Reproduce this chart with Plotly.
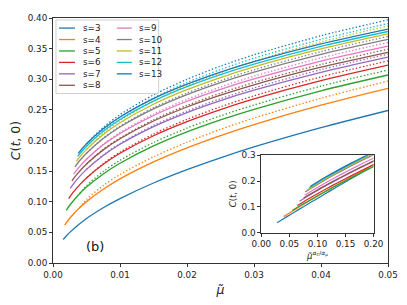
import plotly.graph_objects as go

# ---------------- data ----------------
s_values = [3, 4, 5, 6, 7, 8, 9, 10, 11, 12, 13]
colors = ["#1f77b4", "#ff7f0e", "#2ca02c", "#d62728", "#9467bd", "#8c564b",
          "#e377c2", "#7f7f7f", "#bcbd22", "#17becf", "#1f77b4"]

grid = [0.005, 0.0075, 0.01, 0.015, 0.02, 0.025, 0.03, 0.04, 0.05]

mu_s3 = [0.00153, 0.002, 0.0025] + grid
C_s3 = [0.0384, 0.0444, 0.0500, 0.0725, 0.0901, 0.1051, 0.1306, 0.1524, 0.1717, 0.1894, 0.2209, 0.249]

mu_s4 = [0.00174, 0.0025, 0.004] + grid
C_s4 = [0.062, 0.0731, 0.0905, 0.1002, 0.1204, 0.1373, 0.1650, 0.1880, 0.2081, 0.2260, 0.2576, 0.285]

mu_s5 = [0.00198, 0.0025, 0.004] + grid
C_s5 = [0.086, 0.0943, 0.1135, 0.1239, 0.1454, 0.1628, 0.1911, 0.2140, 0.2336, 0.2510, 0.2812, 0.307]

mu_s6 = [0.00233, 0.003, 0.004] + grid
C_s6 = [0.105, 0.1152, 0.1280, 0.1389, 0.1611, 0.1791, 0.2078, 0.2309, 0.2506, 0.2679, 0.2977, 0.323]

mu_s7 = [0.00258, 0.0035] + grid
C_s7 = [0.122, 0.1353, 0.1529, 0.1756, 0.1938, 0.2226, 0.2456, 0.2651, 0.2821, 0.3113, 0.336]

mu_s8 = [0.00283, 0.0035] + grid
C_s8 = [0.134, 0.1438, 0.1616, 0.1847, 0.2029, 0.2318, 0.2547, 0.2741, 0.2910, 0.3197, 0.344]

mu_s9 = [0.00308, 0.004] + grid
C_s9 = [0.145, 0.1578, 0.1695, 0.1929, 0.2115, 0.2408, 0.2641, 0.2836, 0.3006, 0.3296, 0.354]

mu_s10 = [0.00327, 0.004] + grid
C_s10 = [0.157, 0.1673, 0.1792, 0.2031, 0.2220, 0.2516, 0.2750, 0.2946, 0.3117, 0.3407, 0.365]

mu_s11 = [0.00347, 0.004] + grid
C_s11 = [0.166, 0.1733, 0.1855, 0.2099, 0.2291, 0.2592, 0.2829, 0.3028, 0.3201, 0.3494, 0.374]

mu_s12 = [0.00367] + grid
C_s12 = [0.174, 0.1907, 0.2152, 0.2344, 0.2644, 0.2880, 0.3077, 0.3248, 0.3538, 0.378]

mu_s13 = [0.00377] + grid
C_s13 = [0.179, 0.1946, 0.2191, 0.2384, 0.2684, 0.2920, 0.3118, 0.3289, 0.3578, 0.382]

solid_mu = [mu_s3, mu_s4, mu_s5, mu_s6, mu_s7, mu_s8, mu_s9, mu_s10, mu_s11, mu_s12, mu_s13]
solid_C = [C_s3, C_s4, C_s5, C_s6, C_s7, C_s8, C_s9, C_s10, C_s11, C_s12, C_s13]

# dotted companions (s = 4 ... 13)
dmu_s4 = [0.004] + grid
dC_s4 = [0.0905, 0.1038, 0.1264, 0.1445, 0.1734, 0.1972, 0.2181, 0.2366, 0.2690, 0.297]
dmu_s5 = [0.004] + grid
dC_s5 = [0.1135, 0.1263, 0.1494, 0.1676, 0.1967, 0.2202, 0.2402, 0.2580, 0.2888, 0.315]
dC_s6 = [0.1389, 0.1622, 0.1809, 0.2106, 0.2345, 0.2550, 0.2730, 0.3039, 0.330]
dC_s7 = [0.1529, 0.1764, 0.1951, 0.2246, 0.2482, 0.2683, 0.2858, 0.3157, 0.341]
dC_s8 = [0.1616, 0.1855, 0.2042, 0.2338, 0.2573, 0.2773, 0.2947, 0.3241, 0.349]
dC_s9 = [0.1695, 0.1938, 0.2130, 0.2432, 0.2672, 0.2874, 0.3050, 0.3349, 0.360]
dC_s10 = [0.1792, 0.2039, 0.2233, 0.2536, 0.2776, 0.2978, 0.3154, 0.3451, 0.370]
dC_s11 = [0.1855, 0.2119, 0.2324, 0.2644, 0.2897, 0.3110, 0.3296, 0.3608, 0.387]
dC_s12 = [0.1907, 0.2172, 0.2377, 0.2696, 0.2948, 0.3159, 0.3343, 0.3652, 0.391]
dC_s13 = [0.1946, 0.2214, 0.2422, 0.2744, 0.2998, 0.3213, 0.3399, 0.3710, 0.397]

dotted_mu = [None, dmu_s4, dmu_s5, grid, grid, grid, grid, grid, grid, grid, grid]
dotted_C = [None, dC_s4, dC_s5, dC_s6, dC_s7, dC_s8, dC_s9, dC_s10, dC_s11, dC_s12, dC_s13]

# inset: exponent alpha_c/alpha_mu per s
ratio_exp = [0.552, 0.507, 0.466, 0.4535, 0.451, 0.441, 0.443, 0.446, 0.4416, 0.4396, 0.4375]

main_xticks = [0.00, 0.01, 0.02, 0.03, 0.04, 0.05]
main_yticks = [0.00, 0.05, 0.10, 0.15, 0.20, 0.25, 0.30, 0.35, 0.40]
inset_xticks = [0.00, 0.05, 0.10, 0.15, 0.20]
inset_yticks = [0.0, 0.1, 0.2, 0.3]

# ---------------- layout geometry (window pixels) ----------------
OFF = 8                      # page body margin of the html page
W, H = 407 - OFF, 305 - OFF
L, R, T, B = 52, 388, 13, 263


def px_x(x):
    return (x - L) / (R - L)


def px_y(y):
    return (B - y) / (B - T)


FONT = "DejaVu Sans"
fig = go.Figure()

for i, s in enumerate(s_values):
    fig.add_trace(go.Scatter(
        x=solid_mu[i], y=solid_C[i], mode="lines", showlegend=False,
        line=dict(color=colors[i], width=1.3, shape="spline", smoothing=0.8),
        xaxis="x", yaxis="y"))
    if dotted_C[i] is not None:
        fig.add_trace(go.Scatter(
            x=dotted_mu[i], y=dotted_C[i], mode="lines", showlegend=False,
            line=dict(color=colors[i], width=1.3, dash="1.4px,2.1px",
                      shape="spline", smoothing=0.8),
            xaxis="x", yaxis="y"))

for i, s in enumerate(s_values):
    fig.add_trace(go.Scatter(
        x=[m ** ratio_exp[i] for m in solid_mu[i]], y=solid_C[i], mode="lines",
        showlegend=False,
        line=dict(color=colors[i], width=1.2, shape="spline", smoothing=0.8),
        xaxis="x2", yaxis="y2"))

axis_common = dict(showline=True, linecolor="#333", linewidth=1, mirror=True,
                   ticks="outside", ticklen=3, tickwidth=1, tickcolor="#333",
                   showgrid=False, zeroline=False,
                   tickfont=dict(family=FONT, size=8.8, color="#222"))

in_x0, in_x1 = px_x(261), px_x(373.5)
in_y0, in_y1 = px_y(232), px_y(153)

fig.update_layout(
    width=W, height=H,
    margin=dict(l=L - OFF, r=407 - R, t=T - OFF, b=305 - B, pad=0),
    paper_bgcolor="white", plot_bgcolor="white",
    showlegend=False,
    font=dict(family=FONT, color="#222"),
    xaxis=dict(domain=[0, 1], range=[0, 0.05], tickvals=main_xticks,
               tickformat=".2f", anchor="y",
               title=dict(text="<i>μ̃</i>", font=dict(family=FONT, size=12.5), standoff=6),
               **axis_common),
    yaxis=dict(domain=[0, 1], range=[0, 0.40], tickvals=main_yticks,
               tickformat=".2f", anchor="x",
               title=dict(text="<i>C</i>(<i>t</i>, 0)", font=dict(family=FONT, size=12.5), standoff=6),
               **axis_common),
    xaxis2=dict(domain=[in_x0, in_x1], range=[0, 0.2], tickvals=inset_xticks,
                tickformat=".2f", anchor="y2",
                title=dict(text="<i>μ̃</i><sup><i>α<sub>C</sub></i>/<i>α<sub>μ</sub></i></sup>",
                           font=dict(family=FONT, size=8.5), standoff=2),
                **axis_common),
    yaxis2=dict(domain=[in_y0, in_y1], range=[0, 0.3], tickvals=inset_yticks,
                tickformat=".1f", anchor="x2",
                title=dict(text="<i>C</i>(<i>t</i>, 0)", font=dict(family=FONT, size=8.5), standoff=3),
                **axis_common),
)

# (b) label
fig.add_annotation(x=0.00625, y=0.027, xref="x", yref="y", text="(b)",
                   showarrow=False, font=dict(family=FONT, size=13, color="#111"))

# legend (two columns, drawn as in the reference)
fig.add_shape(type="rect", xref="paper", yref="paper",
              x0=px_x(55), x1=px_x(158), y0=px_y(90), y1=px_y(15),
              line=dict(color="#d0d0d0", width=1), fillcolor="rgba(255,255,255,0.85)",
              layer="above")
for i, s in enumerate(s_values):
    col = 0 if i < 6 else 1
    row = i if i < 6 else i - 6
    yy = 23.3 + 11.67 * row
    lx0, lx1, tx = (58, 74, 80) if col == 0 else (116, 131, 136)
    fig.add_shape(type="line", xref="paper", yref="paper",
                  x0=px_x(lx0), x1=px_x(lx1), y0=px_y(yy), y1=px_y(yy),
                  line=dict(color=colors[i], width=1.3), layer="above")
    fig.add_annotation(x=px_x(tx), y=px_y(yy), xref="paper", yref="paper",
                       text=f"s={s}", showarrow=False, xanchor="left", yanchor="middle",
                       font=dict(family=FONT, size=8.8, color="#222"))

fig.write_html("out.html")
